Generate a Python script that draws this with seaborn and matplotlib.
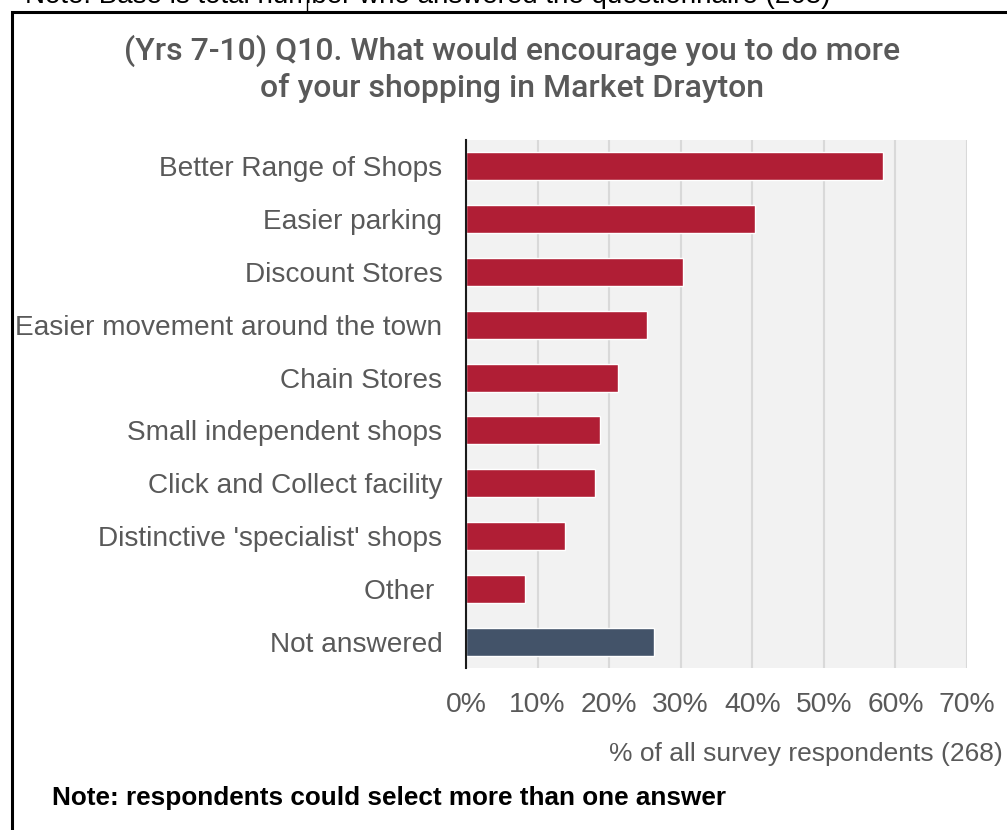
import matplotlib
matplotlib.use("Agg")
import matplotlib.pyplot as plt
import seaborn as sns
import pandas as pd
from matplotlib.patches import Rectangle
from matplotlib.lines import Line2D

categories = ["Better Range of Shops", "Easier parking", "Discount Stores",
              "Easier movement around the town", "Chain Stores",
              "Small independent shops", "Click and Collect facility",
              "Distinctive 'specialist' shops", "Other ", "Not answered"]
values = [58.3, 40.4, 30.3, 25.3, 21.3, 18.7, 18.0, 13.9, 8.3, 26.2]
bar_colors = ["#b01e35"] * 9 + ["#435369"]
xticks = [0, 10, 20, 30, 40, 50, 60, 70]
xtick_labels = ["0%", "10%", "20%", "30%", "40%", "50%", "60%", "70%"]

sns.set_theme(style="white")
plt.rcParams["font.family"] = ["Liberation Sans", "DejaVu Sans"]

df = pd.DataFrame({"category": categories, "value": values})

W, H = 1007, 830
fig = plt.figure(figsize=(W / 100, H / 100), dpi=100)
ax = fig.add_axes([466 / W, 1 - 668 / H, (967 - 466) / W, (668 - 140) / H])
ax.set_facecolor("#f2f2f2")

sns.barplot(data=df, x="value", y="category", hue="category",
            palette=bar_colors, legend=False, width=0.53, orient="h",
            ax=ax, saturation=1)

ax.set_xlim(0, 70)
ax.set_ylim(9.5, -0.5)
ax.set_xticks(xticks)
ax.set_xticklabels(xtick_labels)
ax.xaxis.grid(True, color="#d9d9d9", linewidth=1.5)
ax.yaxis.grid(False)
ax.set_axisbelow(True)
for s in ["top", "right", "bottom"]:
    ax.spines[s].set_visible(False)
ax.spines["left"].set_color("#1a1a1a")
ax.spines["left"].set_linewidth(1.5)
ax.tick_params(axis="x", length=0, pad=17, labelsize=20.3, labelcolor="#595959")
ax.tick_params(axis="y", length=0, pad=17, labelsize=20.2, labelcolor="#595959")
ax.set_xlabel("")
ax.set_ylabel("")

# Title
title_font = dict(family=["Roboto", "Liberation Sans", "DejaVu Sans"], fontsize=23,
                  fontweight="medium", color="#595959", ha="center", va="center")
fig.text(512 / W, 1 - 51 / H, "(Yrs 7-10) Q10. What would encourage you to do more",
         **title_font)
fig.text(512 / W, 1 - 88 / H, "of your shopping in Market Drayton", **title_font)

# X axis caption
fig.text(1003 / W, 1 - 754 / H, "% of all survey respondents (268)",
         ha="right", va="center", fontsize=19, color="#595959")

# Bottom note
fig.text(52 / W, 1 - 798 / H, "Note: respondents could select more than one answer",
         ha="left", va="center", fontsize=18.8, fontweight="bold", color="black")

# Cut-off note above the frame
fig.text(25 / W, 1 - 3 / H, "Note: Base is total number who answered the questionnaire (268)",
         ha="left", va="baseline", fontsize=20, color="black")

# Frame
fig.patches.append(Rectangle((12 / W, -0.05), 1.2, (1 - 12 / H) + 0.05,
                             transform=fig.transFigure, fill=False,
                             edgecolor="black", linewidth=2.2))
fig.lines.append(Line2D([307 / W, 307 / W], [1 - 12 / H, 1.0],
                        transform=fig.transFigure, color="black", linewidth=1))

fig.savefig("out.png", dpi=100)
